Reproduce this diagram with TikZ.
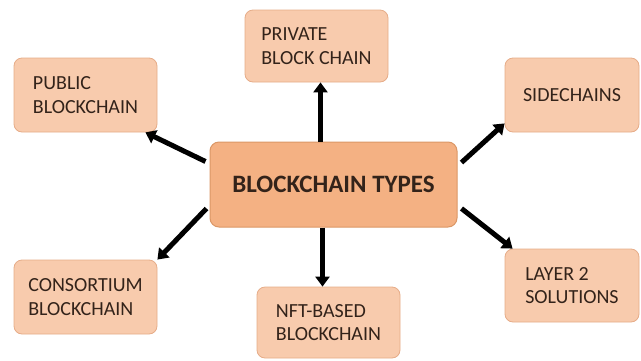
\documentclass[tikz,border=0pt]{standalone}
\usepackage{fontspec}
\setmainfont{Carlito}
\usetikzlibrary{arrows.meta}

\definecolor{palebox}{HTML}{F8CBAD}
\definecolor{paleline}{HTML}{E6AC88}
\definecolor{mainbox}{HTML}{F4B183}
\definecolor{mainline}{HTML}{DB9766}
\definecolor{inktext}{HTML}{33231A}

\tikzset{
  typebox/.style={draw=paleline, fill=palebox, line width=0.8pt, rounded corners=8pt,
    inner sep=0pt, align=left, text=inktext, font=\fontsize{20}{23.5}\selectfont},
  mainnode/.style={draw=mainline, fill=mainbox, line width=1pt, rounded corners=9pt,
    inner sep=0pt, text=inktext, font=\fontsize{25}{30}\selectfont\bfseries},
  bigarrow/.style={line width=5pt, -{Triangle[length=10pt,width=14pt]}}
}

\begin{document}
\begin{tikzpicture}[x=1pt,y=-1pt]
      \useasboundingbox (0,0) rectangle (641,360);

      \node [mainnode, minimum width=247pt, minimum height=85pt] (types) at (333.5,184.5) {BLOCKCHAIN TYPES};

      \node [typebox, minimum width=143pt, minimum height=74pt] (pub) at (85.5,95) {PUBLIC\\BLOCKCHAIN};
      \node [typebox, minimum width=143pt, minimum height=72pt] (priv) at (316.5,46) {PRIVATE\\BLOCK CHAIN};
      \node [typebox, minimum width=134pt, minimum height=74pt] (side) at (572,95) {SIDECHAINS};
      \node [typebox, minimum width=143pt, minimum height=74pt] (cons) at (85.5,297) {CONSORTIUM\\BLOCKCHAIN};
      \node [typebox, minimum width=143pt, minimum height=71pt] (nft) at (328.5,322.5) {NFT-BASED\\BLOCKCHAIN};
      \node [typebox, minimum width=134pt, minimum height=73pt] (lay) at (572,285.5) {LAYER 2\\SOLUTIONS};

      % arrows out of the centre box
      \draw[bigarrow] ([shift={(-4pt,-20pt)}]types.north west) -- ([xshift=-12pt]pub.south east);
      \draw[bigarrow] ([xshift=-13pt]types.north) -- ([xshift=-13pt]types.north |- priv.south);
      \draw[bigarrow] ([shift={(4pt,-21pt)}]types.north east) -- ([yshift=9pt]side.south west);
      \draw[bigarrow] ([shift={(-3pt,19pt)}]types.south west) -- (cons.north east);
      \draw[bigarrow] ([xshift=-11pt]types.south) -- ([xshift=-11pt]types.south |- nft.north);
      \draw[bigarrow] ([shift={(4pt,19pt)}]types.south east) -- ([xshift=8pt]lay.north west);
\end{tikzpicture}
\end{document}
